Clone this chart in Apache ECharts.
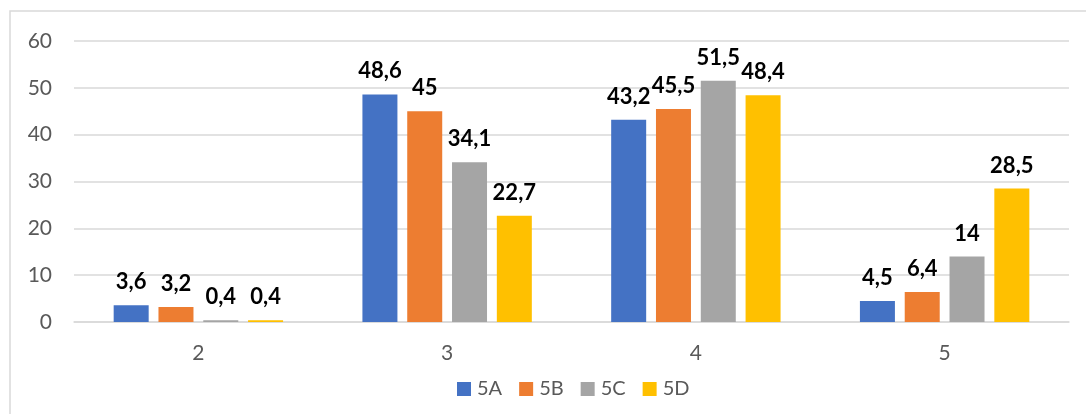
<!DOCTYPE html>
<html>
<head>
<meta charset="utf-8">
<script src="https://cdn.jsdelivr.net/npm/echarts@6/dist/echarts.min.js"></script>
<style>
  html, body { margin: 0; padding: 0; background: #fff; }
  #chart { width: 1086px; height: 414px; }
</style>
</head>
<body>
<div id="chart"></div>
<script>
const categories = ['2', '3', '4', '5'];
const seriesNames = ['5A', '5B', '5C', '5D'];
const values5A = [3.6, 48.6, 43.2, 4.5];
const values5B = [3.2, 45, 45.5, 6.4];
const values5C = [0.4, 34.1, 51.5, 14];
const values5D = [0.4, 22.7, 48.4, 28.5];
const colors = ['#4472C4', '#ED7D31', '#A5A5A5', '#FFC000'];

const font = 'Lato, "Open Sans", sans-serif';
const allValues = [values5A, values5B, values5C, values5D];

// comma instead of dot in labels
const fmt = (p) => String(p.value).replace('.', ',');

const chart = echarts.init(document.getElementById('chart'));
chart.setOption({
  animation: false,
  color: colors,
  textStyle: { fontFamily: font },
  graphic: [{
    type: 'rect',
    shape: { x: 10, y: 11, width: 1100, height: 420 },
    style: { fill: 'none', stroke: '#d9d9d9', lineWidth: 1.5 },
    silent: true
  }],
  grid: { left: 74, right: 17, top: 41, bottom: 92 },
  legend: {
    data: seriesNames,
    bottom: 10,
    left: 452,
    itemWidth: 14,
    itemHeight: 14,
    itemGap: 17,
    icon: 'rect',
    textStyle: { color: '#595959', fontSize: 20, fontFamily: font, padding: [0, 0, 0, 1] }
  },
  xAxis: {
    type: 'category',
    data: categories,
    axisLine: { lineStyle: { color: '#d9d9d9', width: 1.5 } },
    axisTick: { show: false },
    axisLabel: { color: '#595959', fontSize: 21, margin: 21, fontFamily: font }
  },
  yAxis: {
    type: 'value',
    min: 0,
    max: 60,
    interval: 10,
    axisLine: { show: false },
    axisTick: { show: false },
    splitLine: { lineStyle: { color: '#d9d9d9', width: 1.5 } },
    axisLabel: { color: '#595959', fontSize: 21, margin: 22, fontFamily: font }
  },
  series: seriesNames.map((name, i) => ({
    name: name,
    type: 'bar',
    data: allValues[i],
    barWidth: 35,
    barGap: '28%',
    label: {
      show: true,
      position: 'top',
      distance: 12,
      formatter: fmt,
      color: '#000',
      fontWeight: 'bold',
      fontSize: 22,
      fontFamily: font
    }
  }))
});
</script>
</body>
</html>
